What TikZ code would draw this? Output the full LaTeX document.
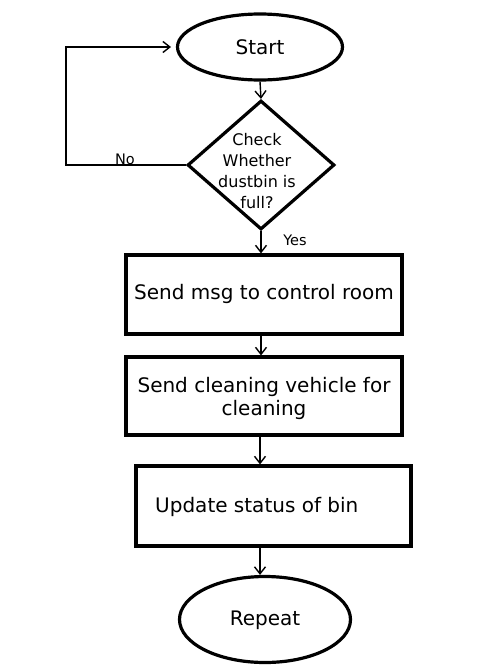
\documentclass[tikz,border=0pt]{standalone}
\usepackage{fontspec}
\setmainfont{DejaVu Sans}
\usetikzlibrary{shapes.geometric,arrows.meta}
\tikzset{
  term/.style={ellipse,draw,line width=3.2pt,inner sep=0pt},
  procbox/.style={rectangle,draw,line width=3.2pt,inner sep=0pt},
  decide/.style={diamond,draw,line width=3.2pt,inner sep=0pt},
  bigtext/.style={font=\fontsize{20}{23}\selectfont,inner sep=0pt,align=center},
  smalltext/.style={font=\fontsize{14.5}{16}\selectfont,inner sep=0pt},
  flow/.style={line width=1.4pt,-{Straight Barb[length=7pt,width=11pt]}}
}
\begin{document}
\begin{tikzpicture}[x=1pt,y=-1pt]
\useasboundingbox[fill=white] (0,0) rectangle (499,672);
% shapes
\node[term,minimum width=165pt,minimum height=66pt] (start) at (260,47) {};
\node[decide,minimum width=147pt,minimum height=129pt] (dia) at (261,165) {};
\node[procbox,minimum width=276pt,minimum height=79pt] (b1) at (264,294.5) {};
\node[procbox,minimum width=276pt,minimum height=78pt] (b2) at (264,396) {};
\node[procbox,minimum width=275pt,minimum height=80pt] (b3) at (273.5,506) {};
\node[term,minimum width=171pt,minimum height=86pt] (rep) at (265,619.5) {};
% texts
\node[bigtext] (tstart) at (start) {Start};
\node[font=\fontsize{16}{21}\selectfont,inner sep=0pt,align=center] (tdia) at (257,171) {Check\\Whether\\dustbin is\\full?};
\node[bigtext] (tb1) at (264,294) {Send msg to control room};
\node[bigtext] (tb2) at (264,398.5) {Send cleaning vehicle for\\cleaning};
\node[bigtext,anchor=west] (tb3) at (155,507) {Update status of bin};
\node[bigtext] (trep) at (265,620) {Repeat};
\node[smalltext] (no) at (125,159) {No};
\node[smalltext] (yes) at (295,240) {Yes};
% connector helpers
\coordinate (loopa) at (66,165);
\coordinate (loopb) at (66,47);
\coordinate (loopend) at (171,47);
% connectors
\draw[flow] (start.south) -- (dia.north);
\draw[flow] (dia.south) -- (dia.south |- b1.north);
\draw[flow] (dia.south |- b1.south) -- (dia.south |- b2.north);
\draw[flow] (b2.south -| 260,0) -- (b3.north -| 260,0);
\draw[flow] (b3.south -| 260,0) -- (rep.north -| 260,0);
\draw[flow] (dia.west) -- (loopa) -- (loopb) -- (loopend);
\end{tikzpicture}
\end{document}
